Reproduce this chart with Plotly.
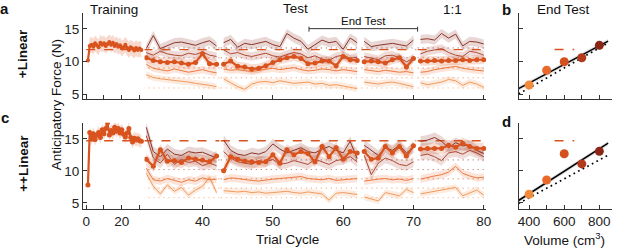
import plotly.graph_objects as go

W, H = 617, 251

# ---------------- data ----------------
train_trials = list(range(1, 32))
train_a = [10.2, 12.4, 12.6, 12.3, 12.8, 12.5, 12.2, 12.9, 12.6, 12.8, 12.4, 12.7, 13.0, 12.6, 12.9, 12.4,
           12.7, 12.3, 12.5, 12.0, 12.2, 12.6, 12.1, 11.8, 12.2, 12.0, 11.7, 12.1, 11.8, 12.0, 11.8]
train_c = [7.8, 16.0, 15.0, 15.8, 14.9, 15.6, 16.0, 15.2, 16.4, 15.8, 16.6, 17.5, 15.6, 16.3, 15.9, 16.8,
           16.2, 16.6, 15.9, 16.4, 15.7, 15.3, 15.9, 16.6, 15.2, 14.5, 15.1, 14.8, 15.0, 14.7, 14.6]

test_trials = list(range(32, 81))
seg_len = [11, 20, 8, 10]
volumes = [400, 500, 600, 700, 800]

a_400 = [8.0, 7.6, 7.4, 7.3, 7.1, 7.0, 6.9, 6.7, 6.6, 6.4, 6.2,
         7.4, 6.8, 6.2, 5.8, 6.6, 6.9, 7.0, 6.8, 7.1, 6.9, 6.7, 6.8, 6.9, 6.6, 6.7, 6.4, 6.5, 6.3, 6.1, 5.9,
         6.9, 6.7, 6.6, 6.8, 6.9, 6.7, 6.5, 6.2,
         6.8, 6.5, 6.7, 6.9, 7.3, 7.1, 6.4, 6.9, 6.6, 6.1]
a_500 = [9.6, 9.0, 8.8, 8.6, 8.9, 8.7, 8.4, 8.6, 8.8, 8.5, 8.3,
         8.9, 8.7, 8.8, 8.6, 8.5, 8.7, 8.9, 9.0, 8.8, 8.9, 9.1, 8.8, 8.6, 8.7, 8.9, 8.8, 8.6, 8.8, 8.7, 8.5,
         8.8, 8.6, 8.5, 8.7, 8.6, 8.4, 8.5, 8.3,
         8.4, 8.5, 8.8, 9.0, 9.2, 9.3, 9.0, 8.8, 8.7, 8.6]
a_600 = [10.6, 10.2, 10.0, 9.9, 10.0, 9.8, 9.6, 9.9, 11.2, 9.7, 9.6,
         9.6, 10.1, 9.3, 9.2, 8.9, 9.0, 9.4, 9.9, 10.3, 10.6, 10.8, 10.5, 9.7, 9.8, 10.1, 10.1, 9.4, 10.8, 10.3, 10.2,
         10.0, 10.1, 10.0, 9.8, 10.3, 10.6, 9.2, 10.5,
         10.1, 10.1, 10.2, 10.1, 10.2, 10.2, 10.3, 10.2, 10.3, 10.3]
a_700 = [11.4, 11.0, 11.6, 11.2, 11.0, 10.9, 11.3, 11.1, 11.5, 11.0, 10.8,
         11.8, 11.2, 11.4, 11.0, 10.8, 11.0, 11.3, 10.9, 10.7, 11.1, 11.4, 11.2, 10.6, 10.9, 10.4, 10.2, 10.8, 11.0, 10.5, 10.7,
         10.8, 10.6, 10.3, 10.9, 11.0, 10.6, 10.0, 10.5,
         11.2, 11.6, 11.8, 12.0, 11.4, 11.0, 10.8, 11.6, 11.4, 11.0]
a_800 = [12.0, 14.0, 12.0, 12.5, 12.9, 13.0, 12.7, 12.5, 12.9, 13.2, 12.4,
         12.9, 13.4, 12.2, 12.8, 12.6, 12.8, 13.1, 12.6, 12.3, 14.3, 13.6, 13.1, 11.9, 12.6, 13.3, 12.9, 13.1, 11.9, 13.6, 12.9,
         13.1, 12.3, 12.5, 12.6, 12.8, 12.6, 12.4, 13.3,
         13.4, 13.5, 13.3, 14.3, 13.6, 14.2, 12.4, 13.1, 13.0, 12.7]

c_400 = [9.6, 7.6, 6.4, 7.8, 6.8, 7.4, 6.2, 7.0, 7.6, 9.0, 6.6,
         6.9, 6.8, 6.7, 6.8, 6.6, 6.7, 6.5, 6.6, 6.7, 6.8, 6.6, 6.5, 6.7, 6.6, 6.4, 5.4, 6.5, 6.6, 6.4, 6.3,
         5.9, 5.6, 5.3, 6.6, 6.3, 6.1, 7.1, 6.6,
         6.4, 6.6, 6.8, 7.0, 7.2, 7.4, 6.1, 6.6, 7.0, 6.2]
c_500 = [10.4, 8.6, 8.4, 8.8, 8.5, 8.2, 8.6, 8.4, 8.9, 8.6, 8.7,
         8.6, 8.9, 8.8, 8.6, 8.5, 8.4, 8.6, 8.7, 8.8, 8.9, 9.0, 9.1, 8.8, 8.7, 8.6, 8.8, 8.5, 8.6, 8.7, 8.8,
         8.4, 8.6, 8.7, 8.8, 8.6, 8.7, 8.5, 8.8,
         8.7, 9.0, 9.2, 9.4, 9.8, 10.7, 9.6, 9.2, 8.9, 9.0]
c_600 = [11.8, 10.7, 13.3, 11.5, 11.6, 11.3, 12.0, 11.8, 11.7, 11.4, 12.3,
         10.0, 12.2, 11.8, 11.5, 11.4, 11.3, 11.4, 12.5, 11.2, 13.3, 12.5, 13.0, 12.7, 11.4, 13.8, 12.2, 13.6, 11.8, 13.0, 12.8,
         13.0, 11.8, 12.0, 13.8, 12.8, 13.8, 12.3, 13.9,
         13.4, 13.5, 13.5, 13.5, 14.0, 13.7, 14.3, 13.8, 13.5, 13.5]
c_700 = [15.5, 12.0, 11.2, 12.6, 11.0, 11.8, 11.3, 11.5, 10.8, 11.2, 10.8,
         13.0, 12.0, 11.4, 11.2, 11.0, 11.6, 11.4, 11.8, 11.0, 11.2, 11.6, 11.3, 11.0, 11.8, 11.4, 11.0, 11.6, 11.8, 12.2, 11.4,
         12.4, 9.4, 11.2, 12.0, 11.6, 11.0, 10.8, 11.4,
         12.4, 12.6, 12.2, 11.6, 12.8, 13.0, 12.6, 13.2, 12.8, 12.2]
c_800 = [16.8, 13.0, 12.2, 13.4, 12.6, 12.4, 13.0, 12.8, 12.9, 12.5, 12.0,
         14.8, 13.2, 12.6, 12.4, 12.8, 12.6, 13.0, 14.2, 13.4, 12.8, 13.2, 13.6, 13.0, 12.8, 13.4, 13.8, 13.2, 12.8, 14.6, 11.9,
         14.0, 13.2, 12.4, 13.6, 13.2, 14.0, 12.8, 13.6,
         14.6, 14.8, 15.2, 14.6, 13.6, 14.4, 13.9, 14.0, 13.2, 12.7]

# band half-widths (SEM) read from the shading
a_sem = [0.5, 0.55, 0.7, 0.65, 0.7]
c_sem = [0.5, 0.6, 0.9, 0.8, 0.8]
train_sem_a = 1.2
train_sem_c = 1.0

# reference levels
a_train_level = 11.85
c_train_level = 14.7
a_scaled_levels = [6.0, 7.55, 9.05, 10.6, 12.1]
c_scaled_levels = [5.8, 7.3, 8.75, 10.2, 11.7]

# End-test summaries (panels b, d)
end_vol = [400, 500, 600, 700, 800]
b_end = [6.45, 8.7, 10.0, 10.6, 12.5]
d_end = [6.34, 8.56, 12.67, 11.08, 13.04]
fit_x = [340, 850]
b_fit = [5.9, 13.14]
d_fit = [5.37, 14.32]
b_unity = [5.09, 12.86]
d_unity = [4.91, 12.44]
level_x = [545, 657]

# ---------------- styling ----------------
line_cols = ['#F29A5C', '#EC7A40', '#D9531E', '#B04A36', '#8C3528']
pt_cols = ['#F28A3C', '#E9692A', '#D4501C', '#B33A1C', '#8B2515']


def rgba(hexc, a):
    h = hexc.lstrip('#')
    return 'rgba(%d,%d,%d,%.2f)' % (int(h[0:2], 16), int(h[2:4], 16), int(h[4:6], 16), a)


def px(x):
    return x / W


def py(y):
    return 1 - y / H


def segs(vals):
    xs, ys, i = [], [], 0
    for k, n in enumerate(seg_len):
        if k:
            xs.append(None)
            ys.append(None)
        xs += test_trials[i:i + n]
        ys += vals[i:i + n]
        i += n
    return xs, ys


def band(ts, vals, sem, split=True):
    xs, ys, i = [], [], 0
    lens = seg_len if split else [len(vals)]
    for k, n in enumerate(lens):
        t = ts[i:i + n]
        v = vals[i:i + n]
        if k:
            xs.append(None)
            ys.append(None)
        xs += t + t[::-1]
        ys += [a + sem for a in v] + [a - sem for a in v][::-1]
        i += n
    return xs, ys


def seg_level(level):
    xs, ys, i = [], [], 0
    for k, n in enumerate(seg_len):
        if k:
            xs.append(None)
            ys.append(None)
        t = test_trials[i:i + n]
        xs += [t[0] - 0.4, t[-1] + 0.4]
        ys += [level, level]
        i += n
    return xs, ys


fig = go.Figure()


def add_panel(xtr, xte, yax, train, tsem, series, sems, train_level, scaled, msize_tr):
    bx, by = band(train_trials, train, tsem, split=False)
    fig.add_trace(go.Scatter(x=bx, y=by, fill='toself', fillcolor=rgba(line_cols[2], 0.22),
                             line=dict(width=0), mode='lines', xaxis=xtr, yaxis=yax, hoverinfo='skip'))
    for k in range(5):
        bx, by = band(test_trials, series[k], sems[k])
        fig.add_trace(go.Scatter(x=bx, y=by, fill='toself', fillcolor=rgba(line_cols[k], 0.2),
                                 line=dict(width=0), mode='lines', xaxis=xte, yaxis=yax, hoverinfo='skip'))
    fig.add_trace(go.Scatter(x=[0, 31.4], y=[train_level, train_level], mode='lines',
                             line=dict(color=line_cols[2], width=1.4, dash='dash'), xaxis=xtr, yaxis=yax))
    lx, ly = seg_level(train_level)
    fig.add_trace(go.Scatter(x=lx, y=ly, mode='lines',
                             line=dict(color=line_cols[2], width=1.4, dash='dash'), xaxis=xte, yaxis=yax))
    for k in range(5):
        lx, ly = seg_level(scaled[k])
        fig.add_trace(go.Scatter(x=lx, y=ly, mode='lines',
                                 line=dict(color=rgba(line_cols[k], 0.85), width=1, dash='1px,4px'),
                                 xaxis=xte, yaxis=yax))
    for k in [0, 1, 3, 4]:
        sx, sy = segs(series[k])
        fig.add_trace(go.Scatter(x=sx, y=sy, mode='lines', line=dict(color=line_cols[k], width=1),
                                 xaxis=xte, yaxis=yax))
    fig.add_trace(go.Scatter(x=train_trials, y=train, mode='lines+markers',
                             line=dict(color=line_cols[2], width=2.2),
                             marker=dict(size=msize_tr, color=line_cols[2]), xaxis=xtr, yaxis=yax))
    sx, sy = segs(series[2])
    fig.add_trace(go.Scatter(x=sx, y=sy, mode='lines+markers', line=dict(color=line_cols[2], width=2.2),
                             marker=dict(size=5, color=line_cols[2]), xaxis=xte, yaxis=yax))


add_panel('x', 'x2', 'y', train_a, train_sem_a, [a_400, a_500, a_600, a_700, a_800], a_sem,
          a_train_level, a_scaled_levels, 4)
add_panel('x3', 'x4', 'y2', train_c, train_sem_c, [c_400, c_500, c_600, c_700, c_800], c_sem,
          c_train_level, c_scaled_levels, 5)


def add_end(xa, ya, vals, fit, unity, level):
    fig.add_trace(go.Scatter(x=fit_x + fit_x[::-1], y=[fit[0] + 0.35, fit[1] + 0.35, fit[1] - 0.35, fit[0] - 0.35],
                             fill='toself', fillcolor='rgba(0,0,0,0.10)', line=dict(width=0), mode='lines',
                             xaxis=xa, yaxis=ya))
    fig.add_trace(go.Scatter(x=fit_x, y=unity, mode='lines', line=dict(color='black', width=1.7, dash='1.7px,3.5px'),
                             xaxis=xa, yaxis=ya))
    fig.add_trace(go.Scatter(x=fit_x, y=fit, mode='lines', line=dict(color='black', width=1.6),
                             xaxis=xa, yaxis=ya))
    fig.add_trace(go.Scatter(x=level_x, y=[level, level], mode='lines',
                             line=dict(color=line_cols[2], width=1.5, dash='dash'), xaxis=xa, yaxis=ya))
    fig.add_trace(go.Scatter(x=end_vol, y=vals, mode='markers',
                             marker=dict(size=9, color=pt_cols), xaxis=xa, yaxis=ya))


add_end('x5', 'y3', b_end, b_fit, b_unity, a_train_level)
add_end('x6', 'y4', d_end, d_fit, d_unity, c_train_level)

FONT = 'Liberation Sans, Arial, sans-serif'
ax_common = dict(showgrid=False, zeroline=False, showline=True, linecolor='#333', linewidth=1,
                 ticks='inside', ticklen=4, tickcolor='#333', tickfont=dict(size=13.5, color='#222', family=FONT))
minor_in = dict(ticks='inside', ticklen=4, tickcolor='#333', showgrid=False)

ya_dom = [py(100), py(13)]
yc_dom = [py(211.3), py(124.3)]
tr_dom = [px(82.7), px(145)]
te_dom = [px(145), px(490)]
rt_dom = [px(523), 1.0]

tr_range = [-1.83, 32.8]
te_range = [31.76, 80.35]

layout = dict(
    width=W, height=H, margin=dict(l=0, r=0, t=0, b=0), showlegend=False,
    plot_bgcolor='white', paper_bgcolor='white', font=dict(family=FONT, color='#222'),
    xaxis=dict(ax_common, domain=tr_dom, range=tr_range, anchor='y', tickvals=[0, 10, 20, 30],
               showticklabels=False),
    xaxis2=dict(ax_common, domain=te_dom, range=te_range, anchor='y', tickvals=[40, 50, 60, 70, 80],
                showticklabels=False),
    yaxis=dict(ax_common, domain=ya_dom, range=[4.35, 17.45], anchor='x', tickvals=[5, 10, 15]),
    xaxis3=dict(ax_common, domain=tr_dom, range=tr_range, anchor='y2', tickvals=[0, 20],
                minor=dict(minor_in, tickvals=[10, 30])),
    xaxis4=dict(ax_common, domain=te_dom, range=te_range, anchor='y2', tickvals=[40, 50, 60, 70, 80]),
    yaxis2=dict(ax_common, domain=yc_dom, range=[4.07, 17.5], anchor='x3', tickvals=[5, 10, 15]),
    xaxis5=dict(ax_common, domain=rt_dom, range=[342, 872], anchor='y3', tickvals=[400, 500, 600, 700, 800],
                showticklabels=False),
    yaxis3=dict(ax_common, domain=ya_dom, range=[4.35, 17.45], anchor='x5', tickvals=[5, 10, 15],
                showticklabels=False),
    xaxis6=dict(ax_common, domain=rt_dom, range=[342, 872], anchor='y4', tickvals=[400, 600, 800],
                minor=dict(minor_in, tickvals=[500, 700])),
    yaxis4=dict(ax_common, domain=yc_dom, range=[4.07, 17.5], anchor='x6', tickvals=[5, 10, 15],
                showticklabels=False),
)
fig.update_layout(**layout)


def ann(text, x, y, size=13.5, bold=False, angle=0):
    t = '<b>%s</b>' % text if bold else text
    fig.add_annotation(text=t, x=px(x), y=py(y), xref='paper', yref='paper', showarrow=False,
                       xanchor='center', yanchor='middle', textangle=angle,
                       font=dict(size=size, family=FONT, color='#111'))


ann('a', 4, 9, 15, True)
ann('b', 510, 10, 15, True)
ann('c', 4, 119, 15, True)
ann('d', 510, 123, 15, True)
ann('+Linear', 22, 54, 13.5, True, -90)
ann('++Linear', 22, 165, 13.5, True, -90)
ann('Anticipatory Force (N)', 56, 106, 13.5, False, -90)
ann('Training', 114.5, 9.5, 13.5)
ann('Test', 297, 9, 13.5)
ann('1:1', 456, 9.5, 13.5)
ann('End Test', 366, 21, 11.5)
ann('End Test', 568, 9.5, 13.5)
ann('Trial Cycle', 289, 242.5, 13.5)
ann('Volume (cm<sup>3</sup>)', 569, 242, 13.5)

for xs, ys in [([311, 420.7], [29, 29]), ([311, 311], [27, 32]), ([420.7, 420.7], [27, 32])]:
    fig.add_shape(type='line', xref='paper', yref='paper', x0=px(xs[0]), x1=px(xs[1]),
                  y0=py(ys[0]), y1=py(ys[1]), line=dict(color='#333', width=1))

fig.write_html('out.html', config={'displayModeBar': False},
               post_script="document.body.style.margin='0px';document.body.style.overflow='hidden';")
